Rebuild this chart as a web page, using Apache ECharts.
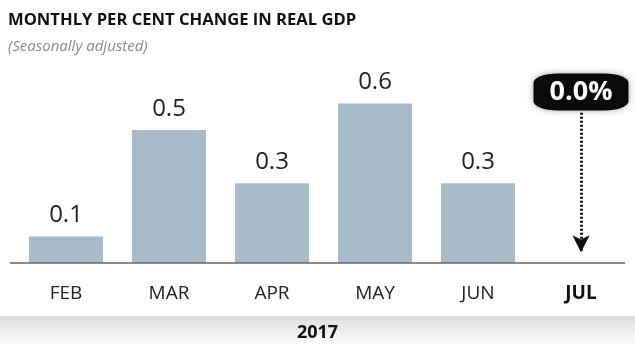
<!DOCTYPE html>
<html><head><meta charset="utf-8">
<script src="https://cdn.jsdelivr.net/npm/echarts@6/dist/echarts.min.js"></script>
<style>html,body{margin:0;padding:0;background:#fff}#c{width:635px;height:357px}</style>
</head><body><div id="c"></div>
<script>
const categories = ['FEB','MAR','APR','MAY','JUN','JUL'];
const values = [0.1, 0.5, 0.3, 0.6, 0.3, 0.0];
const latestLabel = '0.0%';
const yearLabel = '2017';

const chart = echarts.init(document.getElementById('c'));
chart.setOption({
  animation: false,
  backgroundColor: '#fff',
  title: [
    {text: 'MONTHLY PER CENT CHANGE IN REAL GDP', left: 3, top: 7,
     textStyle: {fontFamily: 'Open Sans', fontWeight: 'bold', fontSize: 16.6, color: '#111'}},
    {text: '(Seasonally adjusted)', left: 3, top: 34,
     textStyle: {fontFamily: 'Open Sans', fontStyle: 'italic', fontWeight: 'normal', fontSize: 15, color: '#8a8a8a'}},
    {text: yearLabel, left: 'center', top: 319,
     textStyle: {fontFamily: 'Open Sans', fontWeight: 'bold', fontSize: 18, color: '#111'}}
  ],
  graphic: [
    {type: 'rect', z: -1, shape: {x: 0, y: 316, width: 635, height: 30},
     style: {fill: new echarts.graphic.LinearGradient(0, 0, 0, 1, [{offset: 0, color: '#dcdddf'}, {offset: 1, color: '#ffffff'}])}},
    {type: 'line', z: 10, shape: {x1: 10, y1: 263, x2: 625, y2: 263},
     style: {stroke: '#666', lineWidth: 1.5}}
  ],
  grid: {left: 14.5, right: 2.5, top: 23.6, bottom: 94, containLabel: false},
  xAxis: {
    type: 'category', data: categories,
    axisLine: {show: false}, axisTick: {show: false},
    axisLabel: {margin: 21, fontFamily: 'Open Sans', fontSize: 19, color: '#222',
      formatter: function (v) { return v === 'JUL' ? '{b|' + v + '}' : v; },
      rich: {b: {fontWeight: 'bold', fontFamily: 'Open Sans', fontSize: 19, color: '#111'}}}
  },
  yAxis: {type: 'value', min: 0, max: 0.9, show: false, splitLine: {show: false}},
  series: [{
    type: 'bar', data: values, barWidth: 74,
    itemStyle: {color: '#a7bcc8'},
    label: {show: true, position: 'top', distance: 9, fontFamily: 'Open Sans', fontSize: 24, color: '#222',
      formatter: function (p) { return p.name === 'JUL' ? '' : p.value.toFixed(1); }},
    markLine: {
      silent: true, symbol: ['none', 'arrow'], symbolSize: [13, 17],
      lineStyle: {type: [2, 2], width: 3, color: '#111'},
      label: {show: false},
      data: [[{coord: ['JUL', 0.565]}, {coord: ['JUL', 0.04]}]]
    },
    markPoint: {
      silent: true,
      symbol: 'roundRect', symbolSize: [95, 37],
      itemStyle: {color: '#0a0a0a', shadowBlur: 6, shadowColor: 'rgba(0,0,0,0.35)'},
      label: {show: true, formatter: latestLabel, color: '#fff', fontFamily: 'Open Sans', fontWeight: 'bold', fontSize: 27},
      data: [{coord: ['JUL', 0.643]}]
    }
  }]
});
</script></body></html>
